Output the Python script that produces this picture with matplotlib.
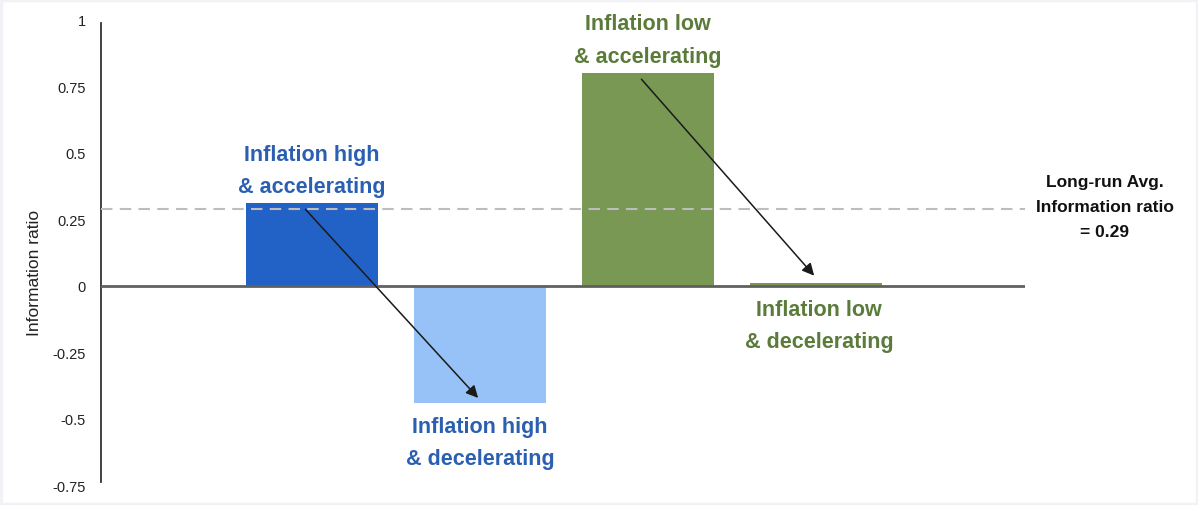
import matplotlib.pyplot as plt
from matplotlib.patches import Rectangle

# regimes and their information ratio
regimes = ['Inflation high\n& accelerating', 'Inflation high\n& decelerating',
           'Inflation low\n& accelerating', 'Inflation low\n& decelerating']
info_ratio = [0.31, -0.44, 0.80, 0.01]
long_run_avg = 0.29
yticks = [1, 0.75, 0.5, 0.25, 0, -0.25, -0.5, -0.75]
ytick_labels = ['1', '0.75', '0.5', '0.25', '0', '-0.25', '-0.5', '-0.75']

bar_colors = ['#2262c6', '#96c2f7', '#789853', '#789853']
text_colors = ['#2b5fb2', '#2b5fb2', '#5a7b3a', '#5a7b3a']
plain = ['Liberation Sans', 'DejaVu Sans']

fig = plt.figure(figsize=(11.98, 5.06), dpi=100)
fig.patches.append(Rectangle((0.001, 0.002), 0.998, 0.996, transform=fig.transFigure,
                             facecolor='none', edgecolor='#f0f2f5', linewidth=2.5))
ax = fig.add_axes([0.0843, 0.0395, 0.7713, 0.919])

x = list(range(len(regimes)))
ax.bar(x, info_ratio, width=0.786, color=bar_colors, zorder=2)
ax.axhline(0, color='#606060', linewidth=2, zorder=3)
ax.axhline(long_run_avg, color='#bdbdbd', linestyle=(0, (5.5, 3.5)), linewidth=1.5, zorder=4)

ax.set_xlim(-1.256, 4.244)
ax.set_ylim(-0.75, 1.0)
ax.set_yticks(yticks)
ax.set_yticklabels(ytick_labels, family=plain, fontsize=10.5, color='#222222')
ax.set_xticks([])
ax.tick_params(axis='y', length=0, pad=11)
for s in ['top', 'right', 'bottom']:
    ax.spines[s].set_visible(False)
ax.spines['left'].set_color('#333333')
ax.spines['left'].set_linewidth(1.3)
ax.spines['left'].set_bounds(-0.74, 0.99)
ax.set_ylabel('Information ratio', family=plain, fontsize=12.5, color='#222222')
ax.yaxis.set_label_coords(-0.064, 0.458)

# regime labels
for i, (lab, v) in enumerate(zip(regimes, info_ratio)):
    if i in (0, 2):
        ax.text(i, v + 0.025, lab, ha='center', va='bottom', fontsize=15.5, fontweight='bold',
                color=text_colors[i], family=plain, linespacing=1.7)
    else:
        ax.text(i + (0.02 if i == 3 else 0), min(v, 0) - 0.05, lab, ha='center', va='top',
                fontsize=15.5, fontweight='bold', color=text_colors[i], family=plain,
                linespacing=1.7)

# arrows from accelerating to decelerating
for a, b in [(0, 1), (2, 3)]:
    ax.annotate('', xy=(b, info_ratio[b] + 0.02 if info_ratio[b] > 0 else info_ratio[b] + 0.01),
                xytext=(a - 0.05, info_ratio[a] - 0.015),
                arrowprops=dict(arrowstyle='-|>', color='#1a1a1a', lw=1.1, mutation_scale=18),
                zorder=5)

fig.text(0.922, 0.59, 'Long-run Avg.\nInformation ratio\n= 0.29', ha='center', va='center',
         fontsize=12.5, fontweight='bold', family=plain, color='#111111', linespacing=1.85)

fig.savefig('out.png', dpi=100, facecolor='white')
